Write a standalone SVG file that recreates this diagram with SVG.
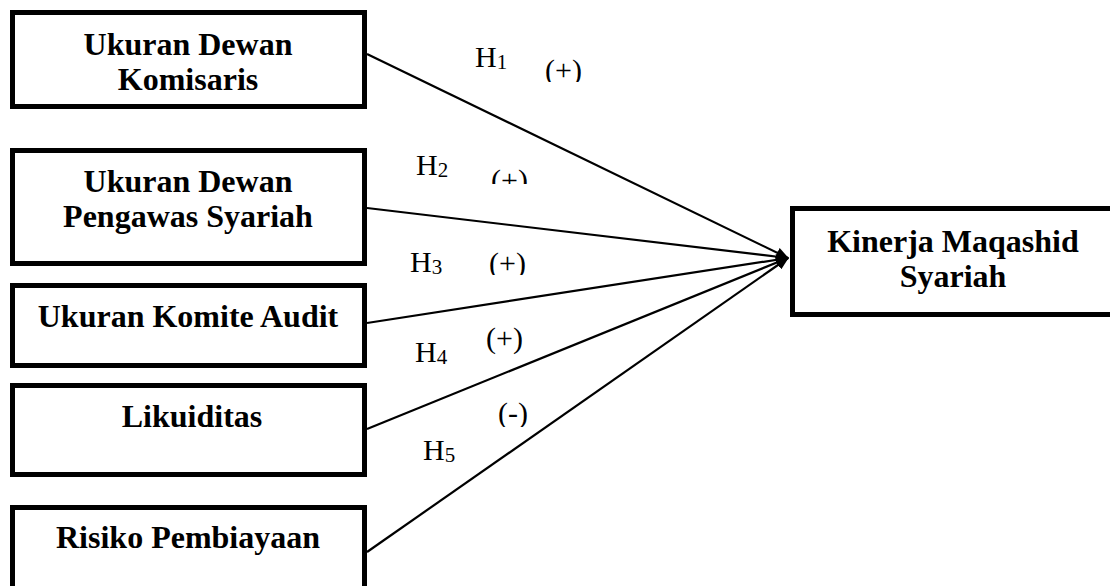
<svg xmlns="http://www.w3.org/2000/svg" width="1110" height="586" viewBox="0 0 1110 586">
<style>
.box{fill:#fff;stroke:#000;stroke-width:5}
.t{font-family:"Liberation Serif","Times New Roman",serif;font-weight:bold;font-size:32px;text-anchor:middle;fill:#000}
.h{font-family:"Liberation Serif","Times New Roman",serif;font-size:30px;fill:#000}
.s{font-size:21px}
.p{font-family:"Liberation Serif","Times New Roman",serif;font-size:30px;fill:#000}
.c{stroke:#000;stroke-width:2.2;fill:none;marker-end:url(#arr)}
</style>
<defs>
<marker id="arr" viewBox="0 0 12 10" refX="11" refY="5" markerWidth="13" markerHeight="11" markerUnits="userSpaceOnUse" orient="auto">
<path d="M0,0 L12,5 L0,10 z" fill="#000"/>
</marker>
<clipPath id="c2"><rect x="480" y="150" width="60" height="34"/></clipPath>
<clipPath id="c3"><rect x="480" y="240" width="60" height="35"/></clipPath>
<clipPath id="c5"><rect x="490" y="390" width="50" height="37"/></clipPath>
<clipPath id="c1"><rect x="540" y="40" width="60" height="42"/></clipPath>
</defs>
<rect width="1110" height="586" fill="#fff"/>
<g id="connectors">
<line class="c" x1="367" y1="54" x2="788" y2="258"/>
<line class="c" x1="367" y1="208" x2="788" y2="258"/>
<line class="c" x1="367" y1="323" x2="788" y2="258"/>
<line class="c" x1="367" y1="429" x2="788" y2="258"/>
<line class="c" x1="367" y1="552" x2="788" y2="258"/>
</g>
<g id="n1"><rect class="box" x="12.5" y="12.5" width="352" height="94"/><text class="t" x="188" y="55">Ukuran Dewan</text><text class="t" x="188" y="90">Komisaris</text></g>
<g id="n2"><rect class="box" x="12.5" y="150.5" width="352" height="113"/><text class="t" x="188" y="192">Ukuran Dewan</text><text class="t" x="188" y="227">Pengawas Syariah</text></g>
<g id="n3"><rect class="box" x="12.5" y="285.5" width="352" height="80"/><text class="t" x="188" y="327">Ukuran Komite Audit</text></g>
<g id="n4"><rect class="box" x="12.5" y="385.5" width="352" height="89"/><text class="t" x="192" y="427">Likuiditas</text></g>
<g id="n5"><rect class="box" x="12.5" y="507.5" width="352" height="100"/><text class="t" x="188" y="548">Risiko Pembiayaan</text></g>
<g id="n6"><rect class="box" x="792.5" y="208.5" width="340" height="106"/><text class="t" x="953" y="252">Kinerja Maqashid</text><text class="t" x="953" y="287">Syariah</text></g>
<g id="labels">
<text class="h" x="475" y="67">H<tspan class="s" dy="2">1</tspan></text>
<text class="p" x="545" y="80" clip-path="url(#c1)">(+)</text>
<text class="h" x="416" y="175">H<tspan class="s" dy="2">2</tspan></text>
<text class="p" x="491" y="190" clip-path="url(#c2)">(+)</text>
<text class="h" x="410" y="272">H<tspan class="s" dy="2">3</tspan></text>
<text class="p" x="489" y="273" clip-path="url(#c3)">(+)</text>
<text class="h" x="415" y="362">H<tspan class="s" dy="2">4</tspan></text>
<text class="p" x="486" y="348">(+)</text>
<text class="h" x="423" y="460">H<tspan class="s" dy="2">5</tspan></text>
<text class="p" x="498" y="423" clip-path="url(#c5)">(-)</text>
</g>
</svg>
